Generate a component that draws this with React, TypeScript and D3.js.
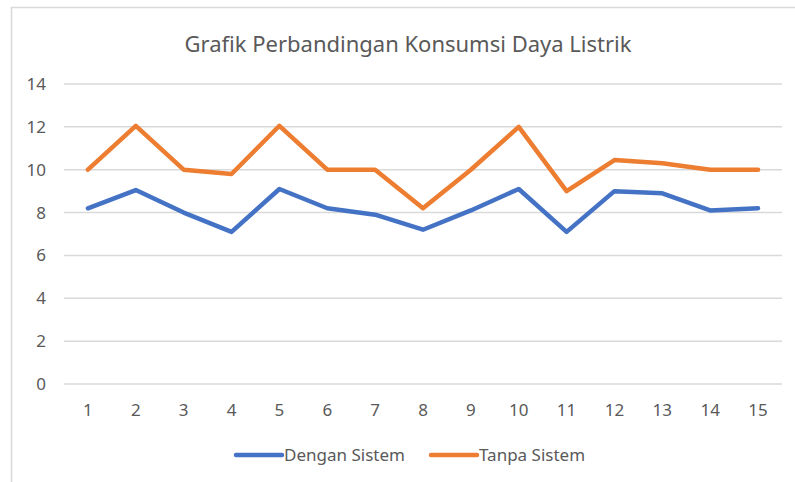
import * as d3 from 'd3';

const categories = ['1', '2', '3', '4', '5', '6', '7', '8', '9', '10', '11', '12', '13', '14', '15'];
const denganSistem = [8.2, 9.05, 8.0, 7.1, 9.1, 8.2, 7.9, 7.2, 8.1, 9.1, 7.1, 9.0, 8.9, 8.1, 8.2];
const tanpaSistem = [10.0, 12.05, 10.0, 9.8, 12.05, 10.0, 10.0, 8.2, 10.0, 12.0, 9.0, 10.45, 10.3, 10.0, 10.0];
const yTicks = [0, 2, 4, 6, 8, 10, 12, 14];

const W = 795;
const H = 482;
const margin = { left: 64, right: 13, top: 84, bottom: 98 };
const textColor = '#595959';
const font = '"Noto Sans", "Open Sans", sans-serif';

const App = () => {
  const x = d3.scaleBand<string>()
    .domain(categories)
    .range([margin.left, W - margin.right]);
  const y = d3.scaleLinear()
    .domain([0, 14])
    .range([H - margin.bottom, margin.top]);

  const line = d3.line<number>()
    .x((_, i) => (x(categories[i]) ?? 0) + x.bandwidth() / 2)
    .y((d) => y(d));

  const series = [
    { name: 'Dengan Sistem', values: denganSistem, color: '#4472C4' },
    { name: 'Tanpa Sistem', values: tanpaSistem, color: '#ED7D31' },
  ];

  const legendX = [236, 431];

  return (
    <svg
      width={W}
      height={H}
      style={{ position: 'absolute', left: 0, top: 0, display: 'block' }}
      fontFamily={font}
    >
      <rect x={0} y={0} width={W} height={H} fill="#fff" />
      <rect x={11.5} y={7.5} width={W + 20} height={H + 20} fill="#fff" stroke="#d9d9d9" strokeWidth={1.5} />

      <text x={408} y={52} textAnchor="middle" fontSize={22} fill={textColor}>
        Grafik Perbandingan Konsumsi Daya Listrik
      </text>

      {yTicks.map((t) => (
        <g key={t}>
          <line x1={margin.left} x2={W - margin.right} y1={y(t)} y2={y(t)} stroke="#d9d9d9" strokeWidth={1.5} />
          <text x={46} y={y(t)} dy="0.35em" textAnchor="end" fontSize={17} fill={textColor}>
            {t}
          </text>
        </g>
      ))}

      {categories.map((c) => (
        <text
          key={c}
          x={(x(c) ?? 0) + x.bandwidth() / 2}
          y={410}
          dy="0.35em"
          textAnchor="middle"
          fontSize={17}
          fill={textColor}
        >
          {c}
        </text>
      ))}

      {series.map((s) => (
        <path
          key={s.name}
          d={line(s.values) ?? ''}
          fill="none"
          stroke={s.color}
          strokeWidth={4.5}
          strokeLinejoin="round"
          strokeLinecap="round"
        />
      ))}

      {series.map((s, i) => (
        <g key={s.name} transform={`translate(${legendX[i]},455)`}>
          <line x1={0} x2={46} y1={0} y2={0} stroke={s.color} strokeWidth={4.5} strokeLinecap="round" />
          <text x={48} y={0} dy="0.35em" fontSize={17} fill={textColor}>
            {s.name}
          </text>
        </g>
      ))}
    </svg>
  );
};

export default App;
